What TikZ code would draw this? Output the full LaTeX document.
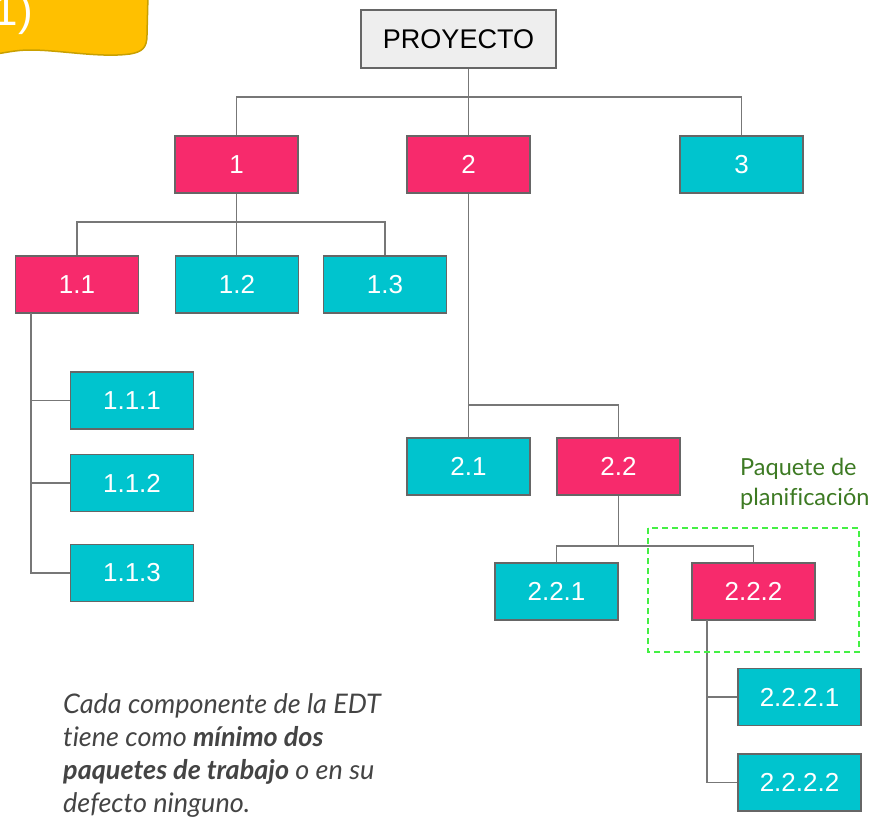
\documentclass[tikz,border=0pt]{standalone}
\usepackage{fontspec}
\setmainfont{Liberation Sans}
\newfontfamily\robo[Ligatures=NoCommon]{Lato}
\definecolor{pinkc}{HTML}{F72A6C}
\definecolor{cyanc}{HTML}{00C4CE}
\definecolor{boxline}{HTML}{666666}
\definecolor{connc}{HTML}{777777}
\definecolor{greybox}{HTML}{EEEEEE}
\definecolor{yellowc}{HTML}{FFC000}
\definecolor{yellowd}{HTML}{C9A000}
\definecolor{dashgreen}{HTML}{44F044}
\definecolor{labgreen}{HTML}{3D7A23}
\definecolor{notec}{HTML}{444444}
\tikzset{
  wbs/.style={draw=boxline, line width=1.6pt, inner sep=0pt, minimum width=123pt, minimum height=57pt,
    text=white, font=\fontsize{26}{30}\selectfont},
  pinkbox/.style={wbs, fill=pinkc},
  cyanbox/.style={wbs, fill=cyanc},
  rootbox/.style={draw=boxline, line width=1.6pt, inner sep=0pt, minimum width=195pt, minimum height=58pt,
    fill=greybox, text=black, font=\fontsize{27}{31}\selectfont},
  conn/.style={draw=connc, line width=1.5pt},
}
\begin{document}
\begin{tikzpicture}[x=1pt,y=-1pt]
\useasboundingbox (0,0) rectangle (884,822);
\begin{scope}
\clip (0,0) rectangle (884,822);
\draw[fill=yellowc, draw=yellowd, line width=1.5pt] (-5,-5) -- (148,-5) -- (147,35)
  .. controls (147,48) and (142,52) .. (130,54)
  .. controls (100,58) and (60,50) .. (30,50)
  .. controls (15,50) and (5,53) .. (-5,54) -- cycle;
\node[anchor=base east, text=white, inner sep=0pt, font=\fontsize{44}{48}\selectfont] (lab) at (33,25) {1)};
\end{scope}

\node[rootbox] (P) at (458.5,39) {PROYECTO};
\node[pinkbox] (n1) at (236.5,164.5) {1};
\node[pinkbox] (n2) at (468.5,164.5) {2};
\node[cyanbox] (n3) at (741.5,164.5) {3};
\node[pinkbox] (n11) at (77,284.5) {1.1};
\node[cyanbox] (n12) at (237,284.5) {1.2};
\node[cyanbox] (n13) at (385,284.5) {1.3};
\node[cyanbox] (n111) at (132,400.5) {1.1.1};
\node[cyanbox] (n112) at (132,483) {1.1.2};
\node[cyanbox] (n113) at (132,573) {1.1.3};
\node[cyanbox] (n21) at (468.5,466.5) {2.1};
\node[pinkbox] (n22) at (618.5,466.5) {2.2};
\node[cyanbox] (n221) at (556.5,591.5) {2.2.1};
\node[pinkbox] (n222) at (753.5,591.5) {2.2.2};
\node[cyanbox] (n2221) at (799.5,697) {2.2.2.1};
\node[cyanbox] (n2222) at (799.5,782.5) {2.2.2.2};

% connectors
\coordinate (b0) at (0,97);
\draw[conn] (n1.north) |- (b0 -| n3.north) -- (n3.north);
\draw[conn] (n2.north |- P.south) -- (n2.north);
\coordinate (b1) at (0,222);
\draw[conn] (n11.north) |- (b1 -| n13.north) -- (n13.north);
\draw[conn] (n1.south) -- (n1.south |- n12.north);
\coordinate (s11) at (31,313);
\draw[conn] (s11) |- (n113.west);
\draw[conn] (s11 |- n111.west) -- (n111.west);
\draw[conn] (s11 |- n112.west) -- (n112.west);
\coordinate (b2) at (0,405);
\draw[conn] (n2.south) -- (n21.north);
\draw[conn] (n2.south |- b2) -| (n22.north);
\coordinate (b3) at (0,546);
\draw[conn] (n22.south) -- (n22.south |- b3);
\draw[conn] (n221.north) |- (b3 -| n222.north) -- (n222.north);
\coordinate (s222) at (707,620);
\draw[conn] (s222) |- (n2222.west);
\draw[conn] (s222 |- n2221.west) -- (n2221.west);

% planning package
\draw[dashgreen, line width=1.5pt, dash pattern=on 6pt off 4pt] (648,528) rectangle (859,652);
\node[anchor=base west, inner sep=0pt, align=left, text=labgreen, font=\robo\fontsize{23.5}{30}\selectfont] (pp) at (740,505)
  {Paquete de\\planificación};

% note
\node[anchor=base west, inner sep=0pt, align=left, text=notec, font=\robo\fontsize{27}{33}\selectfont\itshape] (note) at (63,812)
  {Cada componente de la EDT\\tiene como \textbf{mínimo dos}\\\textbf{paquetes de trabajo} o en su\\defecto ninguno.};
\end{tikzpicture}
\end{document}
